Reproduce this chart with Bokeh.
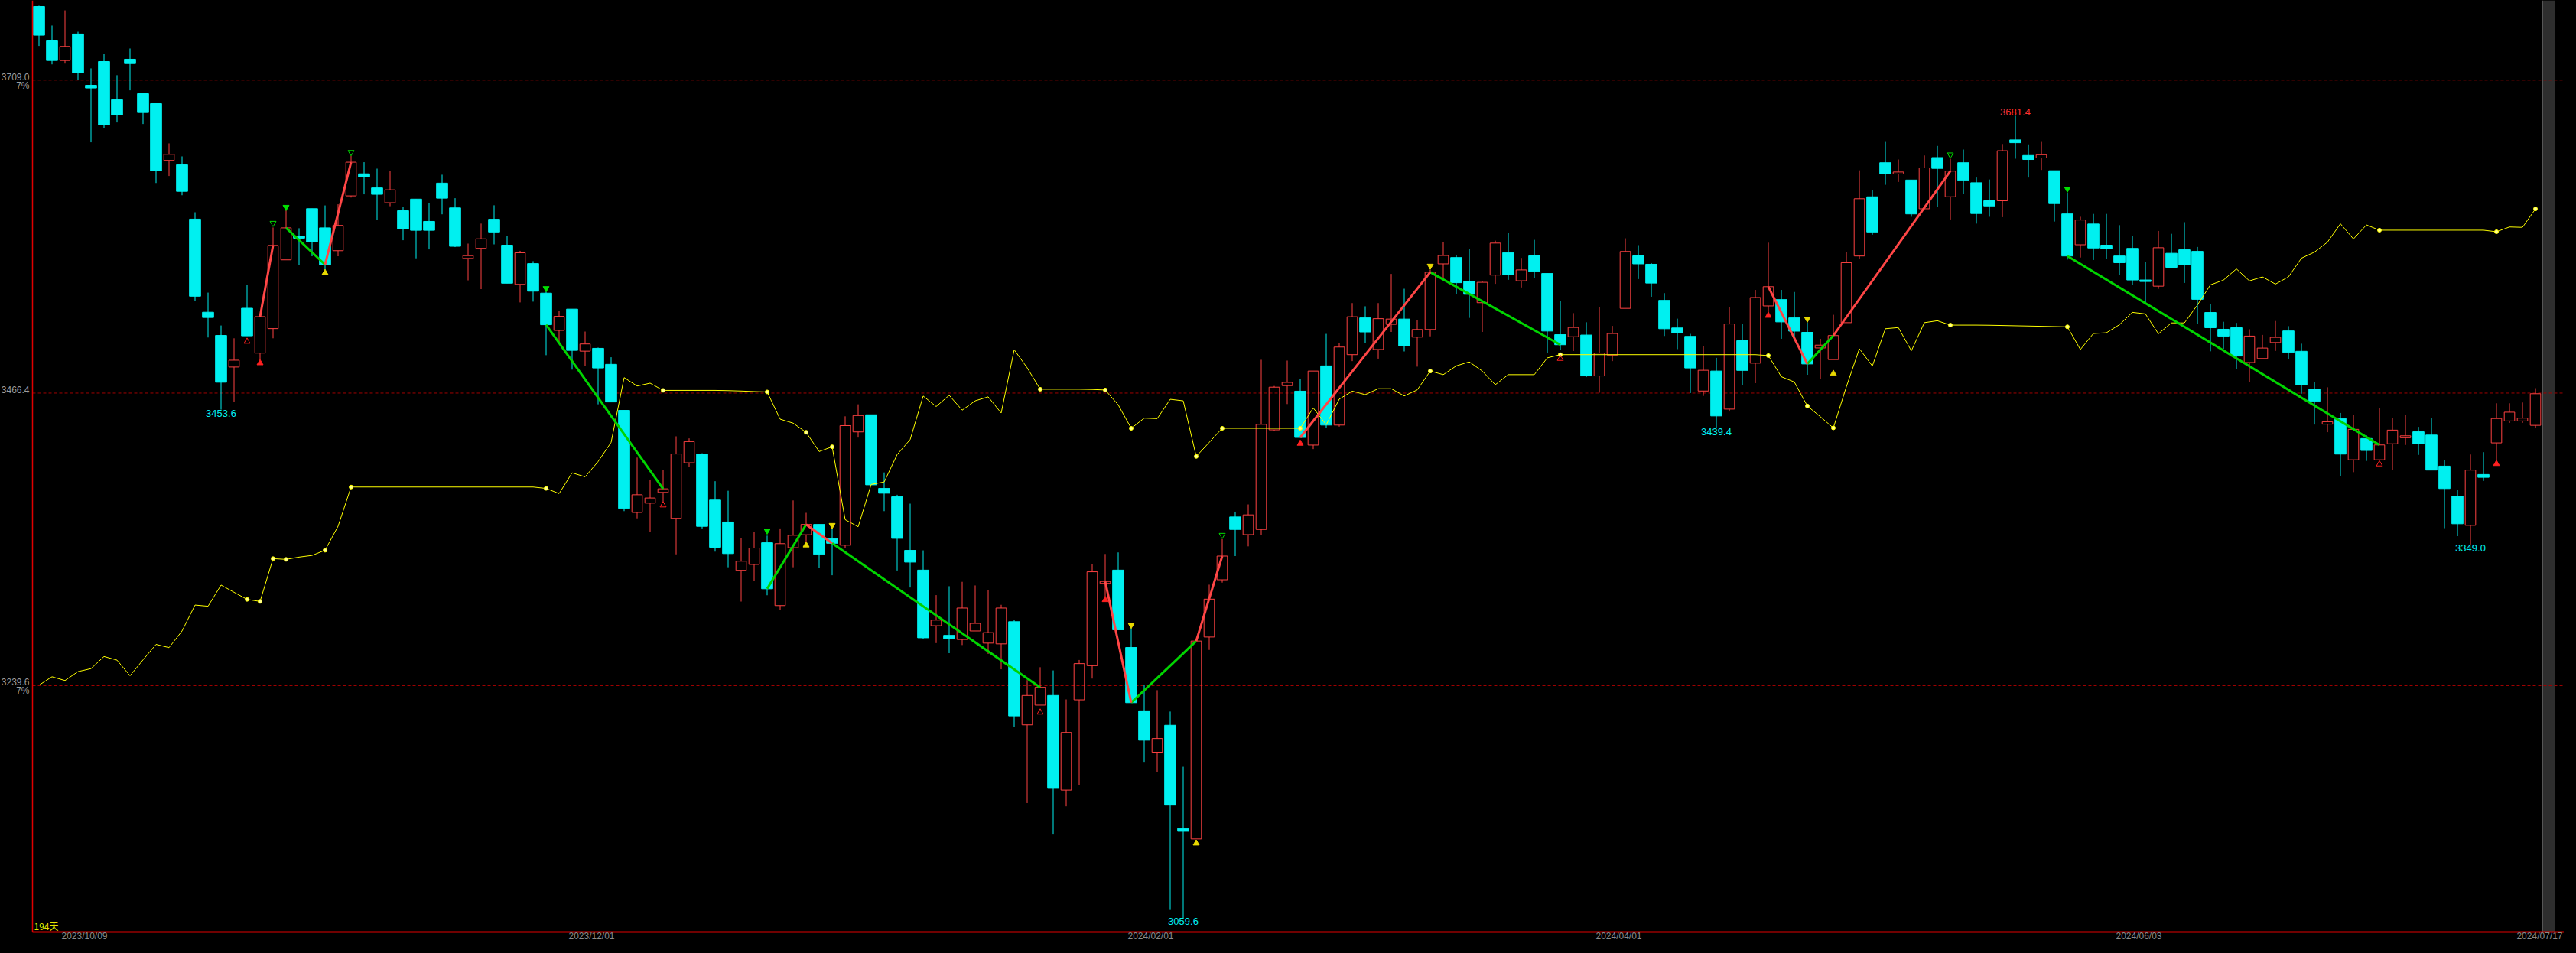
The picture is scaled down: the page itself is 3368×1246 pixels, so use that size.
import numpy as np
from bokeh.plotting import figure
from bokeh.models import Range1d, Label, BoxAnnotation
from bokeh.embed import file_html
from bokeh.resources import INLINE

# ---------------- data ----------------
opens = [3766.1,3740.0,3724.2,3744.8,3705.0,3723.4,3693.8,3725.2,3698.5,3690.8,
         3646.8,3643.4,3601.3,3529.1,3511.1,3486.6,3532.2,3497.4,3516.4,3569.7,
         3588.0,3609.4,3594.5,3576.8,3619.3,3636.4,3625.5,3614.0,3607.8,3616.8,
         3599.5,3629.2,3610.0,3570.8,3578.6,3601.2,3581.1,3550.7,3566.8,3543.9,
         3515.0,3531.5,3498.9,3501.1,3488.7,3453.0,3373.9,3381.1,3389.4,3369.3,
         3412.4,3419.2,3383.5,3366.5,3329.0,3333.6,3350.4,3301.7,3346.6,3356.6,
         3364.6,3353.5,3348.5,3436.3,3449.6,3392.5,3386.0,3344.5,3329.2,3286.1,
         3278.6,3275.4,3282.0,3272.6,3272.0,3289.2,3209.2,3224.5,3232.0,3158.6,
         3228.6,3255.1,3318.9,3329.2,3269.2,3220.1,3188.0,3208.9,3128.9,3120.8,
         3277.3,3321.7,3370.4,3356.7,3360.7,3437.9,3472.2,3467.9,3426.1,3487.5,
         3441.6,3496.2,3524.7,3500.2,3519.7,3523.8,3509.8,3515.7,3566.6,3571.5,
         3553.2,3536.5,3557.9,3575.3,3553.5,3572.8,3559.1,3511.7,3510.1,3511.4,
         3479.7,3495.9,3532.1,3572.8,3566.3,3538.3,3516.9,3510.4,3468.0,3483.5,
         3454.0,3507.0,3489.6,3534.0,3538.9,3524.7,3513.5,3501.4,3492.4,3521.0,
         3572.7,3618.6,3645.0,3636.3,3631.6,3609.3,3649.0,3618.6,3645.0,3629.5,
         3615.5,3615.5,3662.7,3650.6,3648.7,3638.8,3605.3,3581.4,3597.5,3581.1,
         3572.7,3578.6,3554.1,3549.3,3574.8,3577.5,3576.3,3528.9,3515.9,3517.1,
         3490.1,3493.2,3505.6,3514.6,3498.8,3469.6,3442.3,3446.7,3414.7,3431.2,
         3414.7,3427.1,3431.8,3436.4,3433.9,3409.8,3386.5,3363.9,3403.3,3427.8,
         3444.8,3444.8,3441.4]
highs = [3766.7,3751.3,3763.1,3746.5,3718.1,3729.4,3712.8,3733.5,3698.5,3690.8,
         3660.0,3649.9,3606.6,3544.3,3518.8,3508.9,3550.2,3527.0,3594.8,3608.1,
         3594.2,3609.4,3611.9,3612.8,3650.3,3645.4,3640.4,3638.5,3610.6,3616.8,
         3613.7,3635.7,3617.5,3582.3,3597.8,3612.0,3588.5,3576.7,3568.7,3545.0,
         3530.2,3531.5,3514.1,3501.7,3494.2,3453.0,3416.4,3399.4,3406.5,3432.9,
         3431.3,3419.8,3398.1,3390.7,3354.1,3358.7,3355.9,3361.5,3383.2,3373.6,
         3364.6,3361.5,3448.4,3457.7,3449.6,3404.9,3387.6,3380.7,3344.5,3309.8,
         3316.7,3320.1,3317.3,3313.5,3302.3,3290.7,3243.9,3253.9,3251.4,3228.9,
         3259.5,3333.9,3341.7,3342.9,3284.5,3240.1,3236.1,3219.5,3176.7,3274.2,
         3317.9,3353.2,3374.5,3380.1,3492.2,3471.9,3491.6,3477.2,3483.5,3512.3,
         3505.5,3536.2,3533.7,3536.2,3558.8,3547.3,3523.1,3561.9,3583.6,3573.4,
         3578.0,3553.5,3584.6,3590.8,3571.2,3585.2,3559.1,3537.7,3528.4,3521.3,
         3533.1,3518.5,3586.4,3581.1,3567.2,3543.9,3524.1,3512.3,3503.0,3493.7,
         3533.0,3520.0,3546.4,3583.0,3546.4,3544.8,3521.0,3508.5,3527.1,3575.8,
         3639.1,3623.9,3661.1,3647.5,3631.6,3650.6,3658.0,3648.1,3655.2,3633.5,
         3632.0,3659.5,3681.4,3659.2,3661.1,3638.8,3621.7,3603.1,3605.3,3605.3,
         3596.6,3588.2,3568.1,3592.1,3589.9,3598.9,3579.7,3535.4,3521.7,3520.8,
         3515.9,3511.5,3522.3,3518.3,3504.7,3475.2,3470.9,3451.0,3449.2,3433.7,
         3454.7,3447.0,3449.5,3440.2,3447.0,3414.4,3391.2,3418.8,3420.6,3458.5,
         3458.5,3459.1,3470.2]
lows = [3735.5,3721.2,3721.8,3709.4,3660.8,3672.0,3676.2,3701.1,3675.0,3629.3,
        3634.7,3619.8,3537.8,3509.5,3453.6,3459.3,3510.8,3493.0,3508.9,3569.7,
        3565.4,3572.5,3561.6,3572.5,3618.0,3620.5,3600.4,3611.3,3584.9,3570.9,
        3577.8,3605.0,3579.6,3553.8,3547.0,3581.7,3551.6,3536.7,3537.3,3495.8,
        3505.7,3484.6,3487.7,3457.7,3459.5,3374.9,3369.3,3359.0,3381.7,3341.4,
        3409.0,3361.5,3343.5,3331.4,3304.8,3320.6,3309.7,3298.0,3331.4,3351.3,
        3331.1,3325.2,3346.6,3431.9,3395.3,3374.9,3328.9,3315.7,3275.7,3272.6,
        3264.8,3271.1,3282.0,3264.2,3252.3,3207.3,3148.6,3224.5,3124.2,3146.1,
        3162.7,3245.1,3307.9,3282.9,3226.4,3180.5,3172.7,3065.8,3059.6,3120.8,
        3267.3,3319.5,3340.1,3347.6,3356.3,3436.9,3457.9,3432.0,3423.0,3439.4,
        3440.4,3491.2,3505.5,3493.1,3513.8,3498.7,3486.9,3510.4,3554.2,3543.3,
        3524.7,3513.8,3551.1,3554.2,3548.3,3555.7,3497.4,3499.9,3499.0,3478.8,
        3466.7,3491.2,3532.1,3554.8,3541.1,3510.7,3500.5,3466.4,3464.2,3439.4,
        3452.1,3472.9,3474.1,3529.0,3508.5,3508.5,3480.6,3477.5,3492.4,3521.0,
        3570.5,3589.2,3627.9,3630.1,3603.1,3609.3,3610.9,3601.0,3620.8,3597.8,
        3603.1,3602.8,3648.1,3633.5,3639.4,3599.4,3569.9,3571.5,3569.6,3570.5,
        3558.2,3550.4,3535.5,3547.2,3563.3,3551.8,3519.9,3498.8,3500.6,3484.8,
        3475.2,3493.2,3499.1,3492.9,3465.9,3442.0,3436.1,3402.0,3405.1,3413.8,
        3414.7,3407.0,3426.2,3418.5,3406.7,3361.7,3355.5,3349.0,3398.3,3414.4,
        3443.3,3443.3,3439.5]
closes = [3743.8,3724.2,3735.1,3714.7,3702.9,3674.4,3682.1,3721.8,3683.9,3638.8,
          3651.5,3622.8,3541.5,3525.0,3474.8,3491.9,3510.8,3525.7,3580.9,3594.5,
          3586.5,3583.6,3566.0,3596.4,3645.4,3633.9,3620.5,3624.0,3593.6,3592.6,
          3592.6,3617.5,3580.2,3573.0,3586.0,3591.3,3551.6,3575.2,3545.4,3519.4,
          3525.9,3499.5,3504.5,3485.9,3459.5,3377.0,3387.6,3385.1,3392.2,3419.2,
          3428.8,3363.1,3346.9,3342.0,3336.1,3346.3,3314.7,3349.7,3356.2,3364.6,
          3341.4,3350.0,3441.2,3449.0,3395.3,3388.8,3353.8,3335.4,3276.7,3290.4,
          3276.1,3299.8,3287.9,3280.7,3299.8,3216.1,3232.0,3238.3,3160.5,3203.3,
          3256.7,3327.9,3320.4,3282.9,3226.4,3197.3,3198.6,3147.0,3126.7,3274.2,
          3306.7,3340.1,3360.7,3372.0,3442.2,3471.0,3474.7,3432.0,3483.5,3441.6,
          3502.1,3525.6,3513.8,3524.1,3523.8,3503.0,3515.7,3560.1,3573.1,3552.0,
          3543.0,3552.3,3582.7,3558.2,3561.9,3560.7,3514.5,3503.9,3517.3,3479.7,
          3497.4,3512.6,3576.2,3566.6,3551.7,3516.3,3513.2,3485.9,3484.1,3448.7,
          3520.0,3484.0,3540.5,3548.9,3521.6,3514.4,3489.0,3503.6,3511.0,3567.5,
          3617.1,3591.3,3636.6,3637.8,3605.3,3641.0,3640.6,3638.5,3631.3,3605.6,
          3611.5,3654.3,3660.5,3647.5,3651.2,3613.3,3572.7,3600.6,3578.9,3578.3,
          3567.5,3554.1,3552.9,3579.1,3563.9,3565.8,3539.1,3517.1,3510.6,3495.1,
          3510.6,3501.3,3509.6,3497.9,3472.7,3460.0,3444.2,3419.1,3438.3,3421.9,
          3426.2,3437.7,3433.3,3427.1,3406.7,3392.4,3365.1,3406.7,3401.1,3446.7,
          3451.6,3447.0,3465.9]

# yellow indicator line
yellow = [3240.0,3246.5,3243.6,3250.5,3252.8,3262.2,3259.4,3247.3,3259.6,3271.6,
          3269.1,3282.0,3302.1,3301.2,3317.6,3312.0,3306.5,3304.9,3338.1,3337.5,
          3339.3,3340.6,3344.6,3363.2,3393.6,3393.6,3393.6,3393.6,3393.6,3393.6,
          3393.6,3393.6,3393.6,3393.6,3393.6,3393.6,3393.6,3393.6,3393.6,3392.5,
          3388.5,3404.6,3401.5,3413.3,3428.2,3478.4,3471.9,3474.1,3468.5,3468.5,
          3468.5,3468.5,3468.5,3468.3,3468.0,3467.6,3467.3,3446.2,3443.1,3436.0,
          3421.1,3424.8,3368.3,3362.8,3395.6,3397.5,3418.8,3430.4,3464.1,3456.0,
          3464.7,3453.2,3460.4,3463.5,3451.0,3500.0,3486.0,3469.4,3469.4,3469.4,
          3469.4,3469.2,3468.8,3457.3,3439.1,3447.0,3446.6,3461.6,3460.4,3417.3,
          3428.2,3439.1,3439.1,3439.1,3439.1,3439.1,3439.1,3439.1,3454.9,3441.9,
          3461.7,3467.9,3465.2,3469.8,3469.8,3464.2,3468.9,3483.5,3480.7,3487.5,
          3490.6,3483.5,3472.9,3480.7,3480.7,3480.7,3493.7,3496.2,3496.2,3496.2,
          3496.2,3496.2,3496.2,3496.2,3496.2,3496.2,3496.2,3496.2,3496.2,3496.2,
          3496.2,3496.2,3496.2,3495.5,3479.1,3475.0,3456.4,3448.1,3439.4,3471.3,
          3500.8,3487.4,3516.3,3517.2,3499.2,3521.0,3522.5,3519.1,3519.1,3519.1,
          3519.0,3518.8,3518.6,3518.4,3518.2,3518.0,3517.8,3500.2,3512.6,3513.2,
          3519.4,3529.0,3527.8,3512.4,3520.8,3520.8,3534.7,3550.3,3554.0,3562.7,
          3553.4,3556.5,3550.9,3556.5,3571.0,3575.7,3583.4,3597.7,3585.9,3596.8,
          3592.7,3592.7,3592.7,3592.7,3592.7,3592.7,3592.7,3592.7,3592.7,3591.5,
          3595.2,3594.9,3609.2]
yellow_dot_idx = [16, 17, 18, 19, 22, 24, 39, 48, 56, 59, 61, 77, 82, 84, 89, 91,
                  97, 107, 117, 133, 136, 138, 147, 156, 180, 189, 192]

# zigzag legs (between closes)
zz_from = [17, 19, 22, 39, 56, 59, 61, 82, 84, 89, 97, 107, 133, 136, 138, 156]
zz_to   = [18, 22, 24, 48, 59, 61, 77, 84, 89, 91, 107, 117, 136, 138, 147, 180]
zz_kind = ["red", "green", "red", "green", "green", "red", "green", "red",
           "green", "red", "red", "green", "red", "green", "red", "green"]

# signal arrows
mk_idx = [16, 17, 18, 19, 22, 24, 39, 48, 56, 59, 61, 77, 82, 84, 89, 91,
          97, 107, 117, 133, 136, 138, 147, 156, 180, 189]
mk_price = [3506.4, 3489.7, 3598.2, 3610.6, 3559.6, 3653.1, 3547.6, 3379.5,
            3359.7, 3348.5, 3364.0, 3218.9, 3306.1, 3286.7, 3117.4, 3356.3,
            3427.3, 3565.0, 3493.1, 3526.5, 3524.0, 3481.5, 3651.2, 3624.8,
            3411.3, 3411.6]
mk_color = ["red", "red", "green", "green", "yellow", "green", "green", "red",
            "green", "yellow", "yellow", "red", "red", "yellow", "yellow", "green",
            "red", "yellow", "red", "red", "yellow", "yellow", "green", "green",
            "red", "red"]
mk_dir = ["up", "up", "down", "down", "up", "down", "down", "up",
          "down", "up", "down", "up", "up", "down", "up", "down",
          "up", "down", "up", "up", "down", "up", "down", "down",
          "up", "up"]
mk_filled = [False, True, False, True, True, False, True, False,
             True, True, True, False, True, True, True, False,
             True, True, False, True, True, True, False, True,
             False, True]

# annotated extremes
ext_idx = [14, 88, 129, 152, 187]
ext_kind = ["low", "low", "low", "high", "low"]

# levels (price scale)
levels = [3709.0, 3466.4, 3239.6]
level_notes = ["7%", "", "7%"]

# date ticks
date_idx = [3, 42, 85, 121, 161, 192]
date_labels = ["2023/10/09", "2023/12/01", "2024/02/01", "2024/04/01",
               "2024/06/03", "2024/07/17"]
day_count = "194天"

# ---------------- styling ----------------
CYAN = "#00f0f0"
RED = "#ff4242"
ZZ = {"red": "#ff4646", "green": "#00d400"}
MK = {"red": "#ff2020", "green": "#00e000", "yellow": "#e8d800"}
YEL = "#ffff00"
GRID_RED = "#a00000"
AXIS_RED = "#e00000"
LBL_GRAY = "#9c9c9c"

o = np.array(opens); h = np.array(highs); l = np.array(lows); c = np.array(closes)
n = len(o)
idx = np.arange(n)

W, H = 3352, 1230
PX_PER_BAR = 17.0
PX_PER_PT = 1.6866
x_start = -50.5 / PX_PER_BAR          # frame spans whole canvas
x_end = x_start + W / PX_PER_BAR
y_top = 3770.84
y_bot = y_top - H / PX_PER_PT
x_axis_line = -0.5                    # left border line (half a bar before first bar)
y_axis_line = y_top - 1218 / PX_PER_PT  # bottom border line

p = figure(width=W, height=H, output_backend="svg", toolbar_location=None,
           x_range=Range1d(x_start, x_end), y_range=Range1d(y_bot, y_top),
           background_fill_color="black", border_fill_color="black",
           min_border=0, outline_line_color=None,
           x_axis_location=None, y_axis_location=None)
p.grid.visible = False

# level dashed lines (right of the border line)
p.segment([x_axis_line] * len(levels), levels, [x_end] * len(levels), levels,
          line_color=GRID_RED, line_dash="4 3", line_width=1)

# right scroll bar
p.add_layout(BoxAnnotation(left=n - 0.46, right=n + 0.48, bottom=y_axis_line,
                           fill_color="#2e2e2e", fill_alpha=1.0, line_color=None,
                           level="underlay"))
p.segment([n - 0.46], [y_axis_line], [n - 0.46], [y_top], line_color="#6e6e6e",
          line_width=1)

# candles
up = c >= o
dn = ~up
p.segment(idx[dn], h[dn], idx[dn], l[dn], line_color=CYAN, line_width=1)
p.vbar(x=idx[dn], top=o[dn], bottom=c[dn], width=0.86, fill_color=CYAN,
       line_color=CYAN, line_width=1)
btop = np.maximum(o, c); bbot = np.minimum(o, c)
p.segment(idx[up], h[up], idx[up], btop[up], line_color=RED, line_width=1)
p.segment(idx[up], bbot[up], idx[up], l[up], line_color=RED, line_width=1)
p.vbar(x=idx[up], top=c[up], bottom=o[up], width=0.8, fill_color=None,
       line_color=RED, line_width=1)

# yellow indicator
yv = np.array(yellow)
p.line(idx, yv, line_color=YEL, line_width=1)
dots = np.array(yellow_dot_idx)
p.scatter(dots, yv[dots], size=5, marker="circle", fill_color="#ffff90",
          line_color=YEL, line_width=1)

# zigzag legs
for kind in ("green", "red"):
    sel = [k for k in range(len(zz_from)) if zz_kind[k] == kind]
    a = np.array([zz_from[k] for k in sel]); b = np.array([zz_to[k] for k in sel])
    p.segment(a, c[a], b, c[b], line_color=ZZ[kind], line_width=3)

# arrows
for k in range(len(mk_idx)):
    col = MK[mk_color[k]]
    mk = "triangle" if mk_dir[k] == "up" else "inverted_triangle"
    p.scatter([mk_idx[k]], [mk_price[k]], marker=mk, size=8,
              fill_color=col if mk_filled[k] else None, line_color=col, line_width=1)

# border lines (left and bottom)
p.segment([x_axis_line], [y_axis_line], [x_axis_line], [y_top],
          line_color=AXIS_RED, line_width=1.5)
p.segment([x_axis_line], [y_axis_line], [x_end], [y_axis_line],
          line_color=AXIS_RED, line_width=2)

# extreme labels
for k, i in enumerate(ext_idx):
    if ext_kind[k] == "low":
        p.add_layout(Label(x=i, y=l[i], text=f"{l[i]:.1f}", text_align="center",
                           text_baseline="top", text_color=CYAN,
                           text_font="Liberation Sans", text_font_size="13px"))
    else:
        p.add_layout(Label(x=i, y=h[i], text=f"{h[i]:.1f}", text_align="center",
                           text_baseline="bottom", text_color="#ff3030",
                           text_font="Liberation Sans", text_font_size="13px"))

# price scale labels
for lv, note in zip(levels, level_notes):
    p.add_layout(Label(x=x_axis_line, y=lv, text=f"{lv:.1f}", x_offset=-4,
                       text_align="right", text_baseline="bottom",
                       text_color=LBL_GRAY, text_font="Liberation Sans",
                       text_font_size="12px"))
    if note:
        p.add_layout(Label(x=x_axis_line, y=lv, text=note, x_offset=-4,
                           text_align="right", text_baseline="top",
                           text_color=LBL_GRAY, text_font="Liberation Sans",
                           text_font_size="12px"))

# date labels (sit at the very bottom of the canvas); keep the last one inside
half_label_bars = 31.0 / PX_PER_BAR
for i, t in zip(date_idx, date_labels):
    xc = i + 0.5
    if xc + half_label_bars > x_end:
        p.add_layout(Label(x=x_end, y=y_bot, text=t, x_offset=-2, text_align="right",
                           text_baseline="bottom", text_color="#8a8a8a",
                           text_font="Liberation Sans", text_font_size="12px"))
    else:
        p.add_layout(Label(x=xc, y=y_bot, text=t, text_align="center",
                           text_baseline="bottom", text_color="#8a8a8a",
                           text_font="Liberation Sans", text_font_size="12px"))

p.add_layout(Label(x=x_axis_line, y=y_axis_line, text=day_count, x_offset=2,
                   text_align="left", text_baseline="bottom", text_color="#e6e600",
                   text_font="Noto Sans CJK SC", text_font_size="12px"))

html = file_html(p, INLINE).replace("<body>", '<body style="background-color:#000000;">')
open("out.html", "w").write(html)
